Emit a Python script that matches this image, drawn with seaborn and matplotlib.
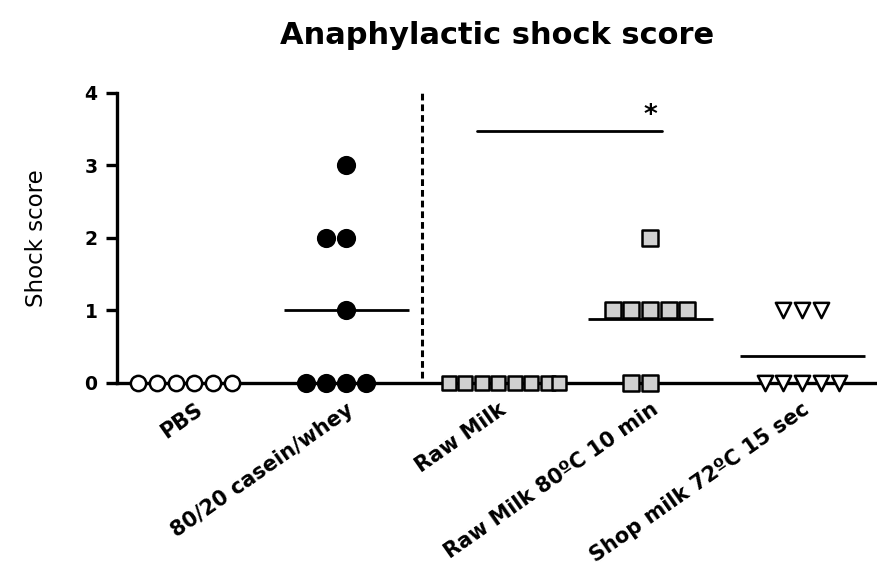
import pandas as pd
import matplotlib.pyplot as plt
import seaborn as sns

# ── Data ──────────────────────────────────────────────────────────────────────
groups = ["PBS", "80/20 casein/whey", "Raw Milk",
          "Raw Milk 80ºC 10 min", "Shop milk 72ºC 15 sec"]
pbs = [0, 0, 0, 0, 0, 0]
casein_whey = [0, 0, 0, 0, 1, 2, 2, 3]
raw_milk = [0, 0, 0, 0, 0, 0, 0, 0]
raw_milk_80 = [0, 0, 1, 1, 1, 1, 1, 2]
shop_milk = [0, 0, 0, 0, 0, 1, 1, 1]
yticks = [0, 1, 2, 3, 4]
sig_span = (1.86, 3.08)   # Raw Milk vs Raw Milk 80ºC bracket
sig_y = 3.47
sig_label = "*"

all_values = [pbs, casein_whey, raw_milk, raw_milk_80, shop_milk]
df = pd.DataFrame(
    [(g, v) for g, vals in zip(groups, all_values) for v in vals],
    columns=["group", "score"],
)

markers = {"PBS": "o", "80/20 casein/whey": "o", "Raw Milk": "s",
           "Raw Milk 80ºC 10 min": "s", "Shop milk 72ºC 15 sec": "v"}
faces = {"PBS": "white", "80/20 casein/whey": "black", "Raw Milk": "#d0d0d0",
         "Raw Milk 80ºC 10 min": "#d0d0d0", "Shop milk 72ºC 15 sec": "white"}
sizes = {"PBS": 11, "80/20 casein/whey": 12, "Raw Milk": 9.5,
         "Raw Milk 80ºC 10 min": 11, "Shop milk 72ºC 15 sec": 11}

sns.set_theme(style="ticks")
plt.rcParams["font.family"] = ["DejaVu Sans"]
plt.rcParams.update({"text.color": "black", "axes.labelcolor": "black",
                     "xtick.color": "black", "ytick.color": "black"})

fig = plt.figure(figsize=(8.78, 5.73), dpi=100)
ax = fig.add_axes([0.133, 0.332, 0.867, 0.506])

for g in groups:
    sub = df[df["group"] == g]
    sns.swarmplot(
        data=sub, x="group", y="score", order=groups, ax=ax,
        marker=markers[g], color=faces[g], edgecolor="black",
        linewidth=1.8, size=sizes[g], clip_on=False, zorder=4,
    )

# group means as horizontal bars
sns.pointplot(
    data=df, x="group", y="score", order=groups, ax=ax,
    estimator="mean", errorbar=None, linestyle="none",
    markers="_", color="black", markersize=90, markeredgewidth=2,
)

for c in ax.collections:
    c.set_clip_on(False)
for ln in ax.lines:
    ln.set_clip_on(False)

# dashed separator between controls and milk groups
ax.vlines(1.5, 0.07, 4, colors="black", linestyles=(0, (2.2, 1.3)), linewidth=2.2)

# significance bracket
ax.plot(sig_span, [sig_y, sig_y], color="black", linewidth=2)
ax.text(sig_span[1] - 0.08, sig_y + 0.03, sig_label, ha="center", va="bottom",
        fontsize=19, fontweight="bold")

ax.set_xlim(-0.51, 4.5)
ax.set_ylim(0, 4)
ax.set_yticks(yticks)
ax.set_yticklabels([str(t) for t in yticks], fontsize=13.5, fontweight="bold")
ax.set_xticks(range(len(groups)))
ax.set_xticklabels(groups, rotation=35, ha="right", rotation_mode="anchor",
                   fontsize=15, fontweight="bold")
ax.set_xlabel("")
ax.set_ylabel("Shock score", fontsize=16.5, labelpad=26)
ax.set_title("Anaphylactic shock score", fontsize=22, fontweight="bold", pad=35)

sns.despine(ax=ax)
for side in ("left", "bottom"):
    ax.spines[side].set_linewidth(2.4)
    ax.spines[side].set_color("black")
ax.tick_params(axis="y", length=8, width=2.4, color="black", pad=6)
ax.tick_params(axis="x", length=5, width=1.5, color="black", pad=7)

fig.savefig("out.png", dpi=100)
